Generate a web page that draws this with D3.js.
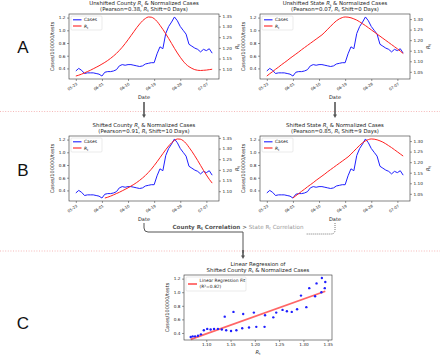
<!DOCTYPE html>
<html>
<head>
<meta charset="utf-8">
<script src="https://cdn.jsdelivr.net/npm/d3@7"></script>
<style>
  body { margin: 0; background: #fff; }
  svg { display: block; font-family: "DejaVu Sans", sans-serif; }
</style>
</head>
<body>
<svg id="fig" width="440" height="357"></svg>
<script>
// ---- data (daily, starting 2020-05-23) ----
const firstDay = "2020-05-23";
const tickLabels = ["05-23", "06-01", "06-10", "06-19", "06-28", "07-07"];

// normalized cases per 100000 tests
const cases = [0.36, 0.40, 0.37, 0.32, 0.33, 0.33, 0.33, 0.32, 0.31, 0.28,
               0.34, 0.35, 0.35, 0.36, 0.38, 0.44, 0.46, 0.45, 0.46, 0.46,
               0.45, 0.44, 0.43, 0.44, 0.47, 0.48, 0.49, 0.49, 0.63, 0.74,
               0.71, 0.95, 1.06, 1.13, 1.21, 1.15, 1.06, 1.00, 0.94, 0.78,
               0.75, 0.72, 0.70, 0.66, 0.70, 0.68, 0.71, 0.64];

// county level Rt
const countyRt = [1.068, 1.072, 1.077, 1.083, 1.089, 1.095, 1.102, 1.109, 1.116, 1.124,
                  1.132, 1.141, 1.151, 1.162, 1.174, 1.188, 1.203, 1.220, 1.238, 1.257,
                  1.276, 1.295, 1.312, 1.327, 1.338, 1.345, 1.344, 1.337, 1.324, 1.306,
                  1.287, 1.266, 1.244, 1.221, 1.198, 1.176, 1.156, 1.138, 1.123, 1.112,
                  1.104, 1.098, 1.095, 1.094, 1.095, 1.096, 1.098, 1.100];

// state level Rt
const stateRt = [1.030, 1.041, 1.051, 1.062, 1.072, 1.083, 1.093, 1.103, 1.114, 1.124,
                 1.134, 1.144, 1.155, 1.165, 1.175, 1.185, 1.195, 1.205, 1.215, 1.225,
                 1.238, 1.252, 1.266, 1.280, 1.292, 1.301, 1.307, 1.310, 1.309, 1.306,
                 1.301, 1.295, 1.287, 1.278, 1.269, 1.259, 1.249, 1.239, 1.229, 1.219,
                 1.209, 1.199, 1.189, 1.179, 1.169, 1.159, 1.148, 1.137];

const countyShift = 10;
const stateShift = 9;
const pearson = {countyRaw: "0.38", stateRaw: "0.07", countyShifted: "0.91", stateShifted: "0.85"};
const rSquared = "0.82";

// ---- helpers ----
const svg = d3.select("#fig");
const parseDay = d3.timeParse("%Y-%m-%d");
const day0 = parseDay(firstDay);
const dates = cases.map((c, i) => d3.timeDay.offset(day0, i));
const tickDates = tickLabels.map(s => parseDay("2020-" + s));
const BLUE = "#1f1fff", RED = "#ff2020", AXIS = "#333";
const TITLE_FS = 5.4;

// matplotlib style 5% margin on both ends
function padded(ext) {
    let a = +ext[0], b = +ext[1];
    let p = (b - a) * 0.05;
    return [a - p, b + p];
}

// write text with italic R and subscript t where "Rt" shows up in parts
function rich(text, parts, fs) {
    let back = null;
    parts.forEach(p => {
        if (p === "Rt") {
            text.append("tspan").attr("font-style", "italic").attr("dy", back).text("R");
            text.append("tspan").attr("font-size", fs * 0.7).attr("dy", fs * 0.25).text("t");
            back = -fs * 0.25;
        } else {
            text.append("tspan").attr("dy", back).text(p);
            back = null;
        }
    });
    return text;
}

function styleAxis(ax, fs) {
    ax.select(".domain").remove();
    ax.selectAll(".tick line").attr("stroke", AXIS).attr("stroke-width", 0.5);
    ax.selectAll(".tick text").attr("font-size", fs).attr("fill", "#222")
        .attr("font-family", "DejaVu Sans");
}

function drawLinePanel(o) {
    let g = svg.append("g").attr("transform", `translate(${o.left},${o.top})`);

    let x = d3.scaleTime().domain(padded(d3.extent(dates)).map(t => new Date(t))).range([0, o.w]);
    let yC = d3.scaleLinear().domain(padded(d3.extent(cases))).range([o.h, 0]);
    let rtPts = o.rt.slice(0, cases.length - o.shift).map((v, i) => ({d: dates[i + o.shift], v: v}));
    let yR = d3.scaleLinear().domain(padded(d3.extent(rtPts, p => p.v))).range([o.h, 0]);

    // title
    rich(g.append("text").attr("x", o.w / 2).attr("y", -8.8).attr("text-anchor", "middle")
        .attr("font-size", TITLE_FS).attr("fill", "#222"), o.title1, TITLE_FS);
    rich(g.append("text").attr("x", o.w / 2).attr("y", -3).attr("text-anchor", "middle")
        .attr("font-size", TITLE_FS).attr("fill", "#222"), o.title2, TITLE_FS);

    // axes
    let xa = g.append("g").attr("transform", `translate(0,${o.h})`)
        .call(d3.axisBottom(x).tickValues(tickDates).tickFormat(d3.timeFormat("%m-%d")).tickSize(2));
    styleAxis(xa, 3.8);
    xa.selectAll(".tick text").attr("y", 0).attr("dy", 0)
        .attr("text-anchor", "end").attr("transform", "translate(1.5,5.5) rotate(-35)");

    let yl = g.append("g").call(d3.axisLeft(yC).tickValues([0.4, 0.6, 0.8, 1.0, 1.2])
        .tickFormat(d3.format(".1f")).tickSize(2));
    styleAxis(yl, 4.2);
    yl.selectAll(".tick text").attr("x", -3.5);

    let yr = g.append("g").attr("transform", `translate(${o.w},0)`)
        .call(d3.axisRight(yR).ticks(6).tickFormat(d3.format(".2f")).tickSize(2));
    styleAxis(yr, 4.2);
    yr.selectAll(".tick text").attr("x", 3.5);

    g.append("text").attr("x", o.w / 2).attr("y", o.h + 20).attr("text-anchor", "middle")
        .attr("font-size", 5).attr("fill", "#222").text("Date");
    g.append("text").attr("transform", `translate(-15,${o.h / 2}) rotate(-90)`)
        .attr("text-anchor", "middle").attr("font-size", 5).attr("fill", "#222")
        .text("Cases/100000/tests");
    rich(g.append("text").attr("transform", `translate(${o.w + 19.5},${o.h / 2}) rotate(-90)`)
        .attr("text-anchor", "middle").attr("font-size", 5.2).attr("fill", "#222"), ["Rt"], 5.2);

    // lines
    g.append("path").datum(cases.map((c, i) => ({d: dates[i], v: c})))
        .attr("fill", "none").attr("stroke", BLUE).attr("stroke-width", 1)
        .attr("d", d3.line().x(p => x(p.d)).y(p => yC(p.v)));
    g.append("path").datum(rtPts)
        .attr("fill", "none").attr("stroke", RED).attr("stroke-width", 1)
        .attr("d", d3.line().curve(d3.curveMonotoneX).x(p => x(p.d)).y(p => yR(p.v)));

    g.append("rect").attr("width", o.w).attr("height", o.h)
        .attr("fill", "none").attr("stroke", AXIS).attr("stroke-width", 0.6);

    // legend
    let lg = g.append("g").attr("transform", "translate(2,2)");
    lg.append("rect").attr("width", 31).attr("height", 14).attr("rx", 1)
        .attr("fill", "#fff").attr("fill-opacity", 0.8).attr("stroke", "#ccc").attr("stroke-width", 0.4);
    [["Cases", BLUE], ["Rt", RED]].forEach((e, i) => {
        let yy = 3.8 + i * 6.2;
        lg.append("line").attr("x1", 2).attr("x2", 10.5).attr("y1", yy).attr("y2", yy)
            .attr("stroke", e[1]).attr("stroke-width", 1.1);
        rich(lg.append("text").attr("x", 13).attr("y", yy + 1.6).attr("font-size", 4.4)
            .attr("fill", "#222"), [e[0]], 4.4);
    });
}

// ---- panels A and B ----
const leftX = 69, rightX = 260, panelW = 150, panelH = 65;
drawLinePanel({left: leftX, top: 14, w: panelW, h: panelH, rt: countyRt, shift: 0,
    title1: ["Unshifted County ", "Rt", " & Normalized Cases"],
    title2: ["(Pearson=" + pearson.countyRaw + ", ", "Rt", " Shift=0 Days)"]});
drawLinePanel({left: rightX, top: 14, w: panelW, h: panelH, rt: stateRt, shift: 0,
    title1: ["Unshifted State ", "Rt", " & Normalized Cases"],
    title2: ["(Pearson=" + pearson.stateRaw + ", ", "Rt", " Shift=0 Days)"]});
drawLinePanel({left: leftX, top: 136, w: panelW, h: panelH, rt: countyRt, shift: countyShift,
    title1: ["Shifted County ", "Rt", " & Normalized Cases"],
    title2: ["(Pearson=" + pearson.countyShifted + ", ", "Rt", " Shift=" + countyShift + " Days)"]});
drawLinePanel({left: rightX, top: 136, w: panelW, h: panelH, rt: stateRt, shift: stateShift,
    title1: ["Shifted State ", "Rt", " & Normalized Cases"],
    title2: ["(Pearson=" + pearson.stateShifted + ", ", "Rt", " Shift=" + stateShift + " Days)"]});

// ---- panel C: scatter of shifted county Rt vs cases ----
(function () {
    let o = {left: 184, top: 275, w: 148, h: 65};
    let pts = countyRt.slice(0, cases.length - countyShift).map((r, i) => ({r: r, c: cases[i + countyShift]}));
    let g = svg.append("g").attr("transform", `translate(${o.left},${o.top})`);
    let x = d3.scaleLinear().domain(padded(d3.extent(pts, p => p.r))).range([0, o.w]);
    let y = d3.scaleLinear().domain(padded(d3.extent(pts, p => p.c))).range([o.h, 0]);

    g.append("text").attr("x", o.w / 2).attr("y", -8.8).attr("text-anchor", "middle")
        .attr("font-size", TITLE_FS).attr("fill", "#222").text("Linear Regression of");
    rich(g.append("text").attr("x", o.w / 2).attr("y", -3).attr("text-anchor", "middle")
        .attr("font-size", TITLE_FS).attr("fill", "#222"), ["Shifted County ", "Rt", " & Normalized Cases"], TITLE_FS);

    let xa = g.append("g").attr("transform", `translate(0,${o.h})`)
        .call(d3.axisBottom(x).tickValues([1.10, 1.15, 1.20, 1.25, 1.30, 1.35])
            .tickFormat(d3.format(".2f")).tickSize(2));
    styleAxis(xa, 4.2);
    xa.selectAll(".tick text").attr("y", 3.5);
    let ya = g.append("g").call(d3.axisLeft(y).tickValues([0.4, 0.6, 0.8, 1.0, 1.2])
        .tickFormat(d3.format(".1f")).tickSize(2));
    styleAxis(ya, 4.2);
    ya.selectAll(".tick text").attr("x", -3.5);

    rich(g.append("text").attr("x", o.w / 2).attr("y", o.h + 14).attr("text-anchor", "middle")
        .attr("font-size", 5.2).attr("fill", "#222"), ["Rt"], 5.2);
    g.append("text").attr("transform", `translate(-15,${o.h / 2}) rotate(-90)`)
        .attr("text-anchor", "middle").attr("font-size", 5).attr("fill", "#222")
        .text("Cases/100000/tests");

    // least squares fit
    let mx = d3.mean(pts, p => p.r), my = d3.mean(pts, p => p.c);
    let slope = d3.sum(pts, p => (p.r - mx) * (p.c - my)) / d3.sum(pts, p => (p.r - mx) ** 2);
    let xr = d3.extent(pts, p => p.r);
    g.append("line")
        .attr("x1", x(xr[0])).attr("y1", y(my + slope * (xr[0] - mx)))
        .attr("x2", x(xr[1])).attr("y2", y(my + slope * (xr[1] - mx)))
        .attr("stroke", "#ff4040").attr("stroke-opacity", 0.8).attr("stroke-width", 1.8);

    g.selectAll(".dot").data(pts).enter().append("circle")
        .attr("cx", p => x(p.r)).attr("cy", p => y(p.c)).attr("r", 1.2).attr("fill", BLUE);

    g.append("rect").attr("width", o.w).attr("height", o.h)
        .attr("fill", "none").attr("stroke", AXIS).attr("stroke-width", 0.6);

    let lg = g.append("g").attr("transform", "translate(2,2)");
    lg.append("rect").attr("width", 60).attr("height", 14).attr("rx", 1)
        .attr("fill", "#fff").attr("stroke", "#ccc").attr("stroke-width", 0.4);
    lg.append("line").attr("x1", 2).attr("x2", 11).attr("y1", 7).attr("y2", 7)
        .attr("stroke", "#ff4040").attr("stroke-opacity", 0.8).attr("stroke-width", 1.8);
    lg.append("text").attr("x", 13.5).attr("y", 5.4).attr("font-size", 4.4).attr("fill", "#222")
        .text("Linear Regression Fit");
    lg.append("text").attr("x", 13.5).attr("y", 11.2).attr("font-size", 4.4).attr("fill", "#222")
        .text("(R\u00b2=" + rSquared + ")");
})();

// ---- panel letters, separators and connectors ----
[["A", 47], ["B", 170], ["C", 323]].forEach(l => {
    svg.append("text").attr("x", 23).attr("y", l[1] + 6).attr("text-anchor", "middle")
        .attr("font-size", 17).attr("fill", "#111").attr("font-family", "Liberation Sans").text(l[0]);
});
[111.5, 251].forEach(yy => {
    svg.append("line").attr("x1", 0).attr("x2", 440).attr("y1", yy).attr("y2", yy)
        .attr("stroke", "#ee8888").attr("stroke-width", 0.6).attr("stroke-dasharray", "1,1.6");
});

const GREY = "#555";
function arrow(xx, y1, y2) {
    svg.append("line").attr("x1", xx).attr("x2", xx).attr("y1", y1).attr("y2", y2 - 3)
        .attr("stroke", GREY).attr("stroke-width", 1.6);
    svg.append("path").attr("d", `M${xx - 2},${y2 - 3.5}L${xx + 2},${y2 - 3.5}L${xx},${y2}Z`).attr("fill", GREY);
}
arrow(144, 102, 118);
arrow(335, 102, 118);

svg.append("path").attr("d", "M144,223V228Q144,232 148,232H243V253")
    .attr("fill", "none").attr("stroke", GREY).attr("stroke-width", 1);
arrow(243, 250, 259);
svg.append("path").attr("d", "M335,223V230Q335,234 331,234H306")
    .attr("fill", "none").attr("stroke", GREY).attr("stroke-width", 0.8).attr("stroke-dasharray", "1,1");

let corr = svg.append("text").attr("x", 238).attr("y", 229).attr("text-anchor", "middle")
    .attr("font-size", 5.6);
let c1 = corr.append("tspan").attr("font-weight", "bold").attr("fill", "#555");
c1.append("tspan").text("County R");
c1.append("tspan").attr("font-size", 4).attr("dy", 1.3).text("t");
c1.append("tspan").attr("dy", -1.3).text(" Correlation > ");
let c2 = corr.append("tspan").attr("fill", "#999");
c2.append("tspan").text("State R");
c2.append("tspan").attr("font-size", 4).attr("dy", 1.3).text("t");
c2.append("tspan").attr("dy", -1.3).text(" Correlation");
</script>
</body>
</html>
